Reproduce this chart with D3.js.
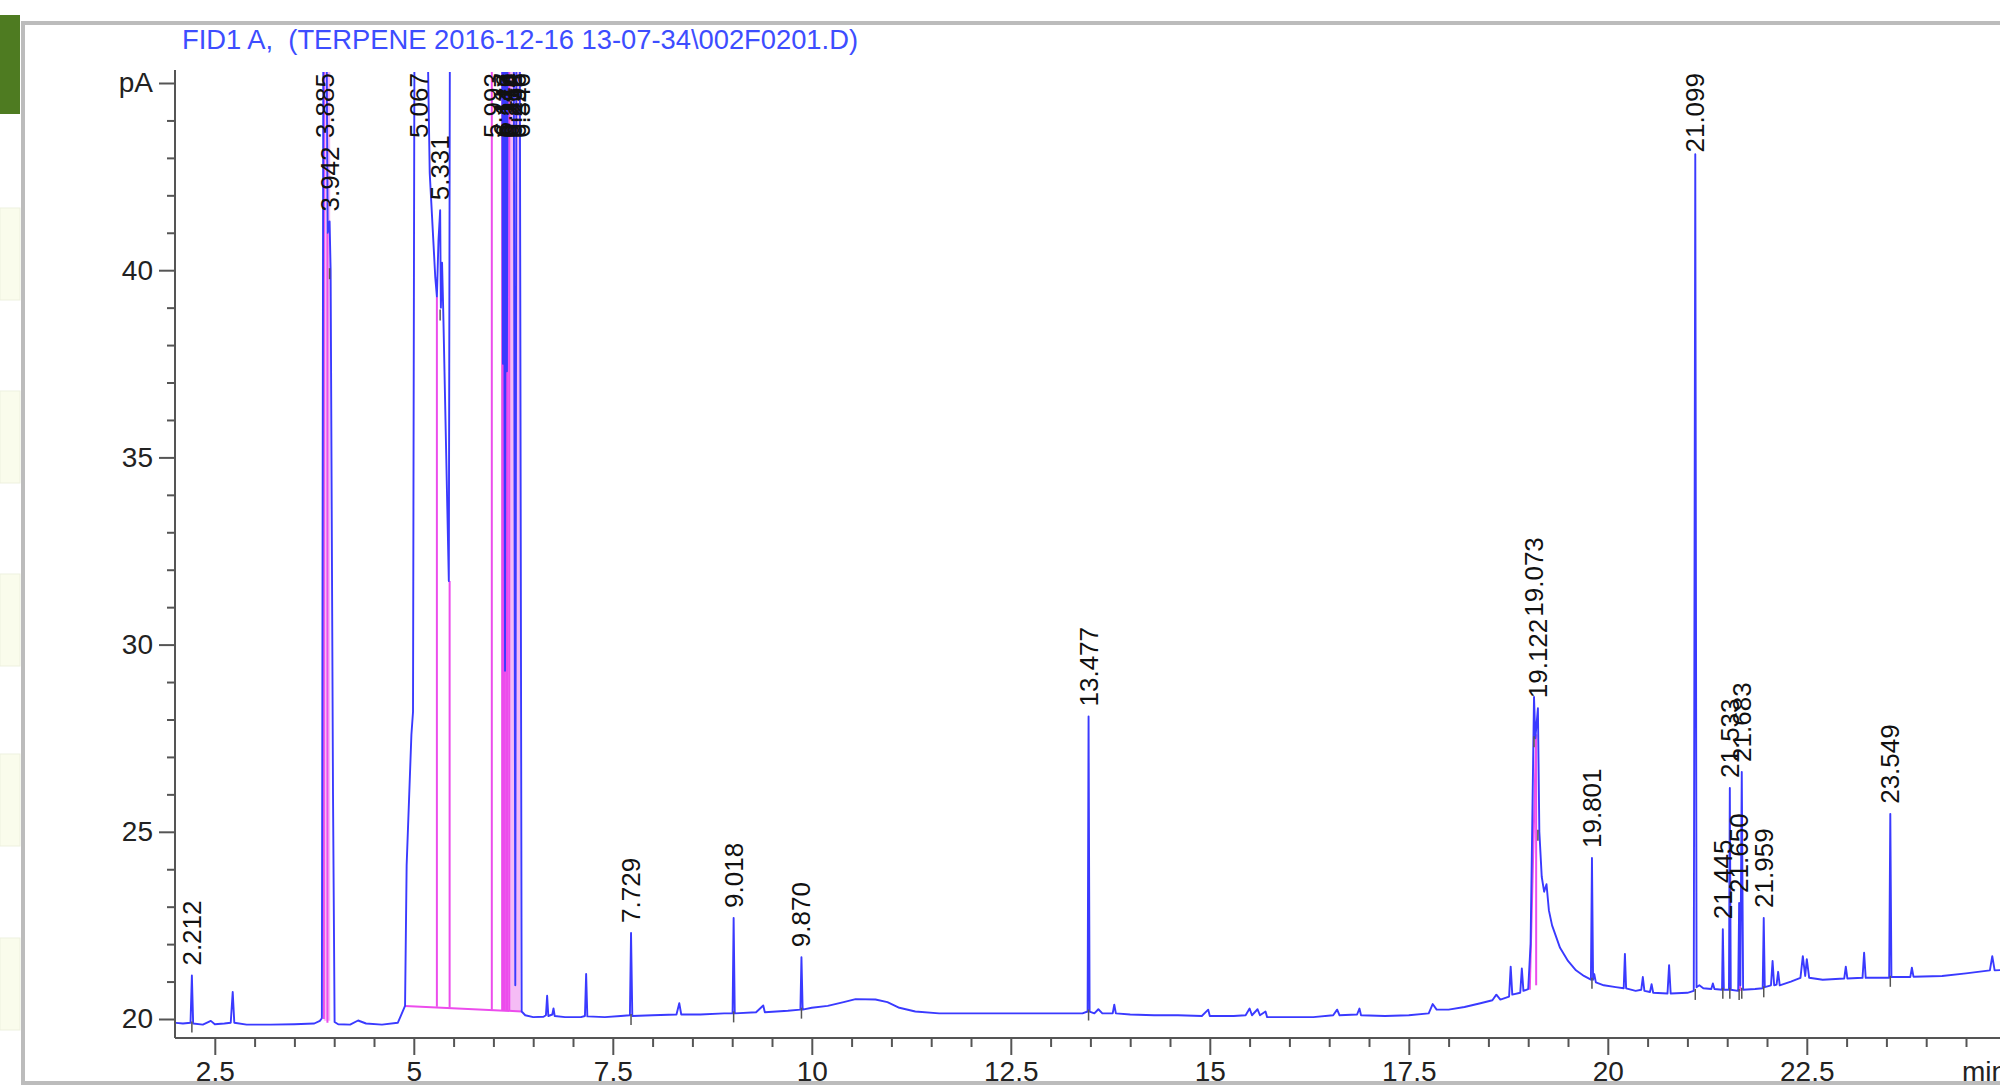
<!DOCTYPE html>
<html>
<head>
<meta charset="utf-8">
<script src="https://cdn.jsdelivr.net/npm/d3@7"></script>
<style>
  body { margin: 0; background: #fff; }
  svg { display: block; font-family: "Liberation Sans", Arial, Helvetica, sans-serif; }
  .title { white-space: pre; }
</style>
</head>
<body>
<div id="chart"></div>
<script>
var svgWidth = 2000;
var svgHeight = 1085;

var chartTitle = "FID1 A,  (TERPENE 2016-12-16 13-07-34\\002F0201.D)";

// signal trace [min, pA]; 48 = off scale (clipped at the top of the plot)
var tracePoints = [
  [2.00, 19.90], [2.10, 19.88], [2.195, 19.90], [2.212, 21.16], [2.228, 19.88],
  [2.35, 19.85], [2.45, 19.95], [2.50, 19.86], [2.62, 19.88], [2.70, 19.90],
  [2.725, 20.72], [2.745, 19.90], [2.90, 19.85], [3.20, 19.85], [3.50, 19.86],
  [3.75, 19.88], [3.82, 19.95], [3.845, 20.02], [3.865, 48], [3.90, 48],
  [3.918, 41.0], [3.942, 41.3], [3.955, 40.0], [3.985, 26.0], [4.005, 19.92],
  [4.05, 19.86], [4.20, 19.85], [4.30, 19.96], [4.40, 19.88], [4.60, 19.85],
  [4.80, 19.90], [4.85, 20.15], [4.89, 20.35], [4.91, 24.1], [4.97, 27.6],
  [4.99, 28.2], [5.01, 48], [5.16, 48], [5.20, 42.6], [5.27, 39.8],
  [5.29, 39.3], [5.31, 40.8], [5.331, 41.6], [5.34, 39.0], [5.355, 40.2],
  [5.37, 38.9], [5.44, 31.7], [5.455, 48], [5.98, 48], [6.11, 48],
  [6.12, 37.5], [6.13, 48], [6.146, 29.3], [6.156, 48], [6.17, 37.3],
  [6.18, 48], [6.255, 48], [6.275, 20.9], [6.29, 48], [6.33, 48],
  [6.355, 20.2], [6.40, 20.10], [6.50, 20.05], [6.63, 20.06], [6.66, 20.10],
  [6.675, 20.62], [6.69, 20.08], [6.74, 20.12], [6.755, 20.28], [6.77, 20.08],
  [6.90, 20.05], [7.10, 20.05], [7.15, 20.08], [7.165, 21.2], [7.18, 20.07],
  [7.40, 20.05], [7.60, 20.08], [7.715, 20.10], [7.729, 22.3], [7.745, 20.08],
  [8.00, 20.10], [8.30, 20.12], [8.335, 20.42], [8.36, 20.12], [8.60, 20.12],
  [8.90, 20.15], [9.005, 20.15], [9.018, 22.7], [9.032, 20.15], [9.30, 20.18],
  [9.39, 20.36], [9.41, 20.18], [9.70, 20.22], [9.857, 20.25], [9.870, 21.65],
  [9.885, 20.25], [10.00, 20.30], [10.20, 20.35], [10.40, 20.45], [10.55, 20.53],
  [10.80, 20.52], [10.95, 20.45], [11.10, 20.30], [11.30, 20.20], [11.60, 20.15],
  [12.00, 20.15], [12.50, 20.15], [13.00, 20.15], [13.40, 20.15], [13.465, 20.20],
  [13.477, 28.08], [13.49, 20.20], [13.55, 20.15], [13.60, 20.26], [13.65, 20.15],
  [13.78, 20.15], [13.80, 20.38], [13.82, 20.15], [14.00, 20.12], [14.30, 20.10],
  [14.60, 20.10], [14.90, 20.08], [14.98, 20.25], [15.00, 20.08], [15.30, 20.08],
  [15.45, 20.10], [15.50, 20.28], [15.53, 20.10], [15.60, 20.26], [15.63, 20.10],
  [15.70, 20.20], [15.72, 20.05], [16.00, 20.05], [16.30, 20.05], [16.55, 20.10],
  [16.60, 20.25], [16.63, 20.10], [16.85, 20.12], [16.88, 20.28], [16.90, 20.10],
  [17.20, 20.08], [17.50, 20.10], [17.75, 20.15], [17.80, 20.40], [17.85, 20.25],
  [18.00, 20.25], [18.20, 20.32], [18.40, 20.42], [18.55, 20.50], [18.60, 20.65],
  [18.65, 20.52], [18.76, 20.60], [18.78, 21.40], [18.80, 20.65], [18.90, 20.70],
  [18.92, 21.35], [18.94, 20.75], [19.00, 20.80], [19.03, 22.0], [19.073, 28.6],
  [19.09, 27.5], [19.122, 28.3], [19.14, 25.0], [19.17, 23.8], [19.20, 23.4],
  [19.23, 23.6], [19.26, 22.9], [19.30, 22.5], [19.40, 21.9], [19.50, 21.55],
  [19.60, 21.30], [19.70, 21.15], [19.788, 21.05], [19.801, 24.3], [19.815, 21.05],
  [19.83, 21.20], [19.85, 20.98], [19.95, 20.90], [20.10, 20.85], [20.20, 20.82],
  [20.215, 21.74], [20.23, 20.82], [20.35, 20.75], [20.42, 20.78], [20.44, 21.12],
  [20.46, 20.75], [20.53, 20.72], [20.55, 20.93], [20.57, 20.70], [20.75, 20.68],
  [20.77, 21.44], [20.79, 20.68], [21.00, 20.70], [21.08, 20.75], [21.099, 43.1],
  [21.115, 20.85], [21.15, 20.90], [21.20, 20.82], [21.30, 20.80], [21.32, 20.95],
  [21.34, 20.80], [21.435, 20.78], [21.445, 22.4], [21.458, 20.78], [21.522, 20.78],
  [21.533, 26.17], [21.545, 20.78], [21.638, 20.75], [21.650, 23.1], [21.665, 20.9],
  [21.683, 26.6], [21.70, 20.78], [21.85, 20.80], [21.946, 20.82], [21.959, 22.7],
  [21.972, 20.85], [22.05, 20.90], [22.07, 21.55], [22.09, 20.90], [22.12, 20.92],
  [22.14, 21.26], [22.16, 20.90], [22.30, 21.00], [22.42, 21.10], [22.45, 21.68],
  [22.48, 21.15], [22.50, 21.60], [22.53, 21.10], [22.70, 21.05], [22.97, 21.08],
  [22.99, 21.40], [23.01, 21.08], [23.20, 21.10], [23.22, 21.77], [23.24, 21.10],
  [23.535, 21.10], [23.549, 25.48], [23.563, 21.12], [23.80, 21.12], [23.82, 21.37],
  [23.84, 21.13], [24.20, 21.15], [24.50, 21.22], [24.80, 21.30], [24.83, 21.68],
  [24.86, 21.30], [25.10, 21.32]
];

// labelled peaks: retention time and apex height (48 = off scale)
var peakTimes = [2.212, 3.885, 3.942, 5.067, 5.331, 5.993, 6.117, 6.146, 6.178,
  6.214, 6.252, 6.296, 6.346, 7.729, 9.018, 9.870, 13.477, 19.073, 19.122,
  19.801, 21.099, 21.445, 21.533, 21.650, 21.683, 21.959, 23.549];
var peakHeights = [21.16, 48, 41.3, 48, 41.6, 48, 48, 48, 48,
  48, 48, 48, 48, 22.3, 22.7, 21.65, 28.08, 28.6, 28.3,
  24.3, 43.1, 22.4, 26.17, 23.1, 26.6, 22.7, 25.48];

// integration baselines and drop lines [min, pA]
var integLines = [
  [[3.87, 20.0], [3.87, 48]],
  [[3.915, 19.9], [3.915, 41.0]],
  [[4.89, 20.35], [6.355, 20.2]],
  [[5.29, 20.33], [5.29, 39.3]],
  [[5.45, 20.31], [5.45, 31.7]],
  [[5.98, 20.25], [5.98, 48]],
  [[6.11, 20.24], [6.11, 48]],
  [[6.125, 20.24], [6.125, 48]],
  [[6.14, 20.24], [6.14, 48]],
  [[6.16, 20.23], [6.16, 48]],
  [[6.18, 20.23], [6.18, 48]],
  [[6.20, 20.23], [6.20, 48]],
  [[19.02, 20.78], [19.10, 27.6]],
  [[19.10, 20.9], [19.10, 27.6]],
  [[21.66, 20.75], [21.66, 21.6]]
];
var integAreas = [
  [[3.87, 19.95], [3.87, 48], [3.95, 48], [3.95, 19.95]],
  [[6.21, 20.22], [6.21, 48], [6.34, 48], [6.34, 20.2]]
];

var yMajorTicks = [20, 25, 30, 35, 40, 45];
var yMinorTicks = d3.range(21, 45).filter(d => d % 5 !== 0);
var xMajorTicks = [2.5, 5, 7.5, 10, 12.5, 15, 17.5, 20, 22.5];
var xMinorTicks = d3.range(2.5, 25, 0.5).filter(d => d % 2.5 !== 0);

var axisX0 = 175;
var axisY = 1038;
var plotTop = 70;

var svg = d3.select("#chart")
  .append("svg")
  .attr("width", svgWidth)
  .attr("height", svgHeight);

// left page strip
svg.append("rect").attr("x", 0).attr("y", 15).attr("width", 20).attr("height", 99).attr("fill", "#4e7b21");
[208, 391, 574, 754, 938].forEach(function(y0) {
  svg.append("rect").attr("x", 0).attr("y", y0).attr("width", 20).attr("height", 92)
    .attr("fill", "#fafcec").attr("stroke", "#eef1df").attr("stroke-width", 1);
});

// window frame
svg.append("path")
  .attr("d", "M2000,23 L23,23 L23,1083 L2000,1083")
  .attr("fill", "none")
  .attr("stroke", "#bcbcbc")
  .attr("stroke-width", 4);

var xScale = d3.scaleLinear().domain([2, 25.1]).range([axisX0, axisX0 + 23.1 * 79.6]);
var yScale = d3.scaleLinear().domain([20, 45]).range([1019, 83]);

svg.append("text")
  .attr("class", "title")
  .attr("xml:space", "preserve")
  .attr("x", 182)
  .attr("y", 49)
  .attr("font-size", 27)
  .attr("fill", "#3d4dff")
  .attr("textLength", 676)
  .attr("lengthAdjust", "spacingAndGlyphs")
  .text(chartTitle);

// axes
var yAxisMajor = d3.axisLeft(yScale).tickValues(yMajorTicks).tickSize(16).tickPadding(6)
  .tickFormat(d => d === 45 ? "pA" : d);
var yAxisMinor = d3.axisLeft(yScale).tickValues(yMinorTicks).tickSize(8).tickFormat("");

var gy = svg.append("g").attr("transform", `translate(${axisX0},0)`).call(yAxisMajor);
var gy2 = svg.append("g").attr("transform", `translate(${axisX0},0)`).call(yAxisMinor);

var xAxisMajor = d3.axisBottom(xScale).tickValues(xMajorTicks).tickSize(17).tickPadding(6)
  .tickFormat(d => String(d));
var xAxisMinor = d3.axisBottom(xScale).tickValues(xMinorTicks).tickSize(9).tickFormat("");

var gx = svg.append("g").attr("transform", `translate(0,${axisY})`).call(xAxisMajor);
var gx2 = svg.append("g").attr("transform", `translate(0,${axisY})`).call(xAxisMinor);

[gy, gy2, gx, gx2].forEach(function(g) {
  g.select(".domain").remove();
  g.selectAll("line").attr("stroke", "#555").attr("stroke-width", 2);
  g.selectAll("text").attr("font-size", 28).attr("fill", "#222")
    .attr("font-family", "\"Liberation Sans\", Arial, sans-serif");
});

svg.append("line").attr("x1", axisX0).attr("x2", axisX0).attr("y1", plotTop).attr("y2", axisY)
  .attr("stroke", "#555").attr("stroke-width", 2);
svg.append("line").attr("x1", axisX0).attr("x2", svgWidth).attr("y1", axisY).attr("y2", axisY)
  .attr("stroke", "#555").attr("stroke-width", 2);

svg.append("text")
  .attr("x", 1962)
  .attr("y", axisY + 23)
  .attr("dy", "0.71em")
  .attr("font-size", 28)
  .attr("fill", "#222")
  .text("min");

// plot area clip
svg.append("clipPath").attr("id", "plotclip")
  .append("rect").attr("x", axisX0 + 1).attr("y", plotTop + 2)
  .attr("width", svgWidth - axisX0).attr("height", axisY - plotTop - 3);

var plot = svg.append("g").attr("clip-path", "url(#plotclip)");

var line = d3.line().x(d => xScale(d[0])).y(d => yScale(d[1]));

plot.selectAll(".integ-area")
  .data(integAreas)
  .enter()
  .append("path")
  .attr("class", "integ-area")
  .attr("d", d => line(d) + "Z")
  .attr("fill", "#f2a6f2")
  .attr("opacity", 0.75);

plot.selectAll(".integ-line")
  .data(integLines)
  .enter()
  .append("path")
  .attr("class", "integ-line")
  .attr("d", line)
  .attr("fill", "none")
  .attr("stroke", "#ec4cec")
  .attr("stroke-width", 2);

plot.append("path")
  .datum(tracePoints)
  .attr("d", line)
  .attr("fill", "none")
  .attr("stroke", "#3a3aff")
  .attr("stroke-width", 1.9)
  .attr("stroke-linejoin", "round");

// baseline marks under the labelled on-scale peaks
var onScale = peakTimes.map((t, i) => i).filter(i => peakHeights[i] < 45);
function baseAt(i) {
  var near = tracePoints.filter(p => Math.abs(p[0] - peakTimes[i]) < 0.04);
  return yScale(d3.min(near, p => p[1]));
}
plot.selectAll(".base-mark")
  .data(onScale)
  .enter()
  .append("line")
  .attr("class", "base-mark")
  .attr("x1", i => xScale(peakTimes[i]))
  .attr("x2", i => xScale(peakTimes[i]))
  .attr("y1", i => baseAt(i) - 2)
  .attr("y2", i => baseAt(i) + 9)
  .attr("stroke", "#555")
  .attr("stroke-width", 1.5);

// peak labels, placed from the right, stacked when they would overwrite
var labelTop = plotTop + 3;
var labels = svg.append("g");
var placed = [];
d3.range(peakTimes.length).sort((a, b) => peakTimes[b] - peakTimes[a]).forEach(function(i) {
  var px = xScale(peakTimes[i]);
  var t = labels.append("text")
    .attr("font-size", 26)
    .attr("fill", "#111")
    .text(peakTimes[i].toFixed(3));
  var len = t.node().getComputedTextLength();
  var bottom = Math.max(yScale(Math.min(peakHeights[i], 45.3)) - 10, labelTop + len);
  placed.forEach(function(p) {
    if (Math.abs(p.x - px) < 5 && bottom > p.top + 1 && bottom - len < p.bottom - 1) {
      bottom = p.top - 2;
    }
  });
  bottom = Math.max(bottom, labelTop + len);
  placed.push({ x: px, top: bottom - len, bottom: bottom });
  t.attr("transform", `translate(${px + 9},${bottom}) rotate(-90)`);
});
</script>
</body>
</html>
